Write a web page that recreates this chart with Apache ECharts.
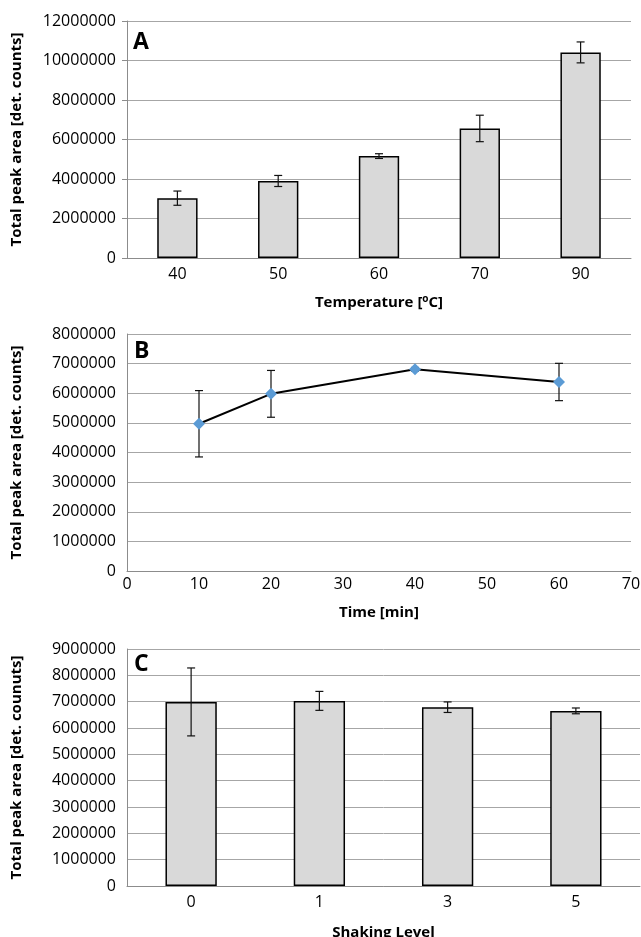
<!DOCTYPE html>
<html>
<head>
<meta charset="utf-8">
<script src="https://cdn.jsdelivr.net/npm/echarts@6/dist/echarts.min.js"></script>
<style>
html,body{margin:0;padding:0;background:#fff;}
#c{width:641px;height:937px;}
</style>
</head>
<body>
<div id="c"></div>
<script>
// Panel A: temperature
const tempCats = ['40', '50', '60', '70', '90'];
const tempValues = [3030000, 3900000, 5160000, 6560000, 10410000];
const tempErr = [360000, 280000, 120000, 670000, 530000];

// Panel B: time
const timeX = [10, 20, 40, 60];
const timeValues = [4970000, 5980000, 6810000, 6380000];
const timeErr = [1120000, 790000, 60000, 630000];

// Panel C: shaking level
const shakeCats = ['0', '1', '3', '5'];
const shakeValues = [6990000, 7030000, 6790000, 6650000];
const shakeErr = [1290000, 360000, 200000, 110000];

const FONT = 'Open Sans';
const gridCol = '#a6a6a6';

function errRender(params, api) {
  const x = api.value(0), y = api.value(1), e = api.value(2);
  const t = api.coord([x, y + e]);
  const b = api.coord([x, y - e]);
  const w = 4;
  const st = {stroke: '#111', lineWidth: 1.2};
  return {type: 'group', children: [
    {type: 'line', shape: {x1: t[0], y1: t[1], x2: b[0], y2: b[1]}, style: st},
    {type: 'line', shape: {x1: t[0] - w, y1: t[1], x2: t[0] + w, y2: t[1]}, style: st},
    {type: 'line', shape: {x1: b[0] - w, y1: b[1], x2: b[0] + w, y2: b[1]}, style: st}
  ]};
}

const tickLabel = {fontFamily: FONT, fontSize: 16, color: '#000'};
const nameStyle = {fontFamily: FONT, fontSize: 15, fontWeight: 'bold', color: '#000'};

function yAxis(gi, max, interval, name, ticks) {
  return {
    type: 'value', gridIndex: gi, min: 0, max: max, interval: interval,
    name: name, nameLocation: 'middle', nameRotate: 90, nameGap: 103,
    nameTextStyle: nameStyle,
    axisLine: {show: true, lineStyle: {color: '#8c8c8c', width: 1}},
    axisTick: {show: ticks, length: 5, lineStyle: {color: '#8c8c8c'}},
    axisLabel: Object.assign({margin: 11, formatter: v => String(v)}, tickLabel),
    splitLine: {show: true, lineStyle: {color: gridCol, width: 1}}
  };
}

const chart = echarts.init(document.getElementById('c'), null, {renderer: 'canvas'});
chart.setOption({
  animation: false,
  backgroundColor: '#fff',
  grid: [
    {left: 127, right: 10, top: 21, height: 237, outerBoundsMode: 'none'},
    {left: 127, right: 10, top: 334, height: 237, outerBoundsMode: 'none'},
    {left: 127, right: 1, top: 649, height: 237, outerBoundsMode: 'none'}
  ],
  xAxis: [
    {type: 'category', gridIndex: 0, data: tempCats,
     name: '{n|Temperature [}{s|o}{n|C]}', nameLocation: 'middle', nameGap: 36,
     nameTextStyle: {rich: {n: nameStyle, s: {fontFamily: FONT, fontSize: 10, fontWeight: 'bold', color: '#000', verticalAlign: 'top', padding: [0, 0, 8, 0]}}},
     axisLine: {lineStyle: {color: '#8c8c8c'}}, axisTick: {show: false},
     axisLabel: Object.assign({margin: 8}, tickLabel)},
    {type: 'value', gridIndex: 1, min: 0, max: 70, interval: 10,
     name: 'Time [min]', nameLocation: 'middle', nameGap: 34, nameTextStyle: nameStyle,
     axisLine: {lineStyle: {color: '#8c8c8c'}}, axisTick: {show: false},
     splitLine: {show: false},
     axisLabel: Object.assign({margin: 5}, tickLabel)},
    {type: 'category', gridIndex: 2, data: shakeCats,
     name: 'Shaking Level', nameLocation: 'middle', nameGap: 39, nameTextStyle: nameStyle,
     axisLine: {lineStyle: {color: '#8c8c8c'}}, axisTick: {show: false},
     axisLabel: Object.assign({margin: 8}, tickLabel)}
  ],
  yAxis: [
    yAxis(0, 12000000, 2000000, 'Total peak area [det. counts]', true),
    yAxis(1, 8000000, 1000000, 'Total peak area [det. counts]', false),
    yAxis(2, 9000000, 1000000, 'Total peak area [det. counuts]', false)
  ],
  graphic: [
    {type: 'text', left: 133, top: 31, style: {text: 'A', fontFamily: FONT, fontSize: 23, fontWeight: 'bold', fill: '#000'}},
    {type: 'text', left: 134, top: 340, style: {text: 'B', fontFamily: FONT, fontSize: 23, fontWeight: 'bold', fill: '#000'}},
    {type: 'text', left: 134, top: 653, style: {text: 'C', fontFamily: FONT, fontSize: 23, fontWeight: 'bold', fill: '#000'}}
  ],
  series: [
    {type: 'bar', xAxisIndex: 0, yAxisIndex: 0, data: tempValues, barWidth: '40%',
     itemStyle: {color: '#d9d9d9', borderColor: '#000', borderWidth: 1.5}},
    {type: 'custom', xAxisIndex: 0, yAxisIndex: 0, renderItem: errRender, z: 5,
     data: tempCats.map((c, i) => [i, tempValues[i], tempErr[i]]), encode: {x: 0, y: 1}},
    {type: 'custom', xAxisIndex: 1, yAxisIndex: 1, renderItem: errRender, z: 2,
     data: timeX.map((x, i) => [x, timeValues[i], timeErr[i]]), encode: {x: 0, y: 1}},
    {type: 'line', xAxisIndex: 1, yAxisIndex: 1, z: 4,
     data: timeX.map((x, i) => [x, timeValues[i]]),
     lineStyle: {color: '#000', width: 2}, symbol: 'diamond', symbolSize: 12,
     itemStyle: {color: '#5b9bd5'}},
    {type: 'bar', xAxisIndex: 2, yAxisIndex: 2, data: shakeValues, barWidth: '40%',
     itemStyle: {color: '#d9d9d9', borderColor: '#000', borderWidth: 1.5}},
    {type: 'custom', xAxisIndex: 2, yAxisIndex: 2, renderItem: errRender, z: 5,
     data: shakeCats.map((c, i) => [i, shakeValues[i], shakeErr[i]]), encode: {x: 0, y: 1}}
  ]
});
</script>
</body>
</html>
